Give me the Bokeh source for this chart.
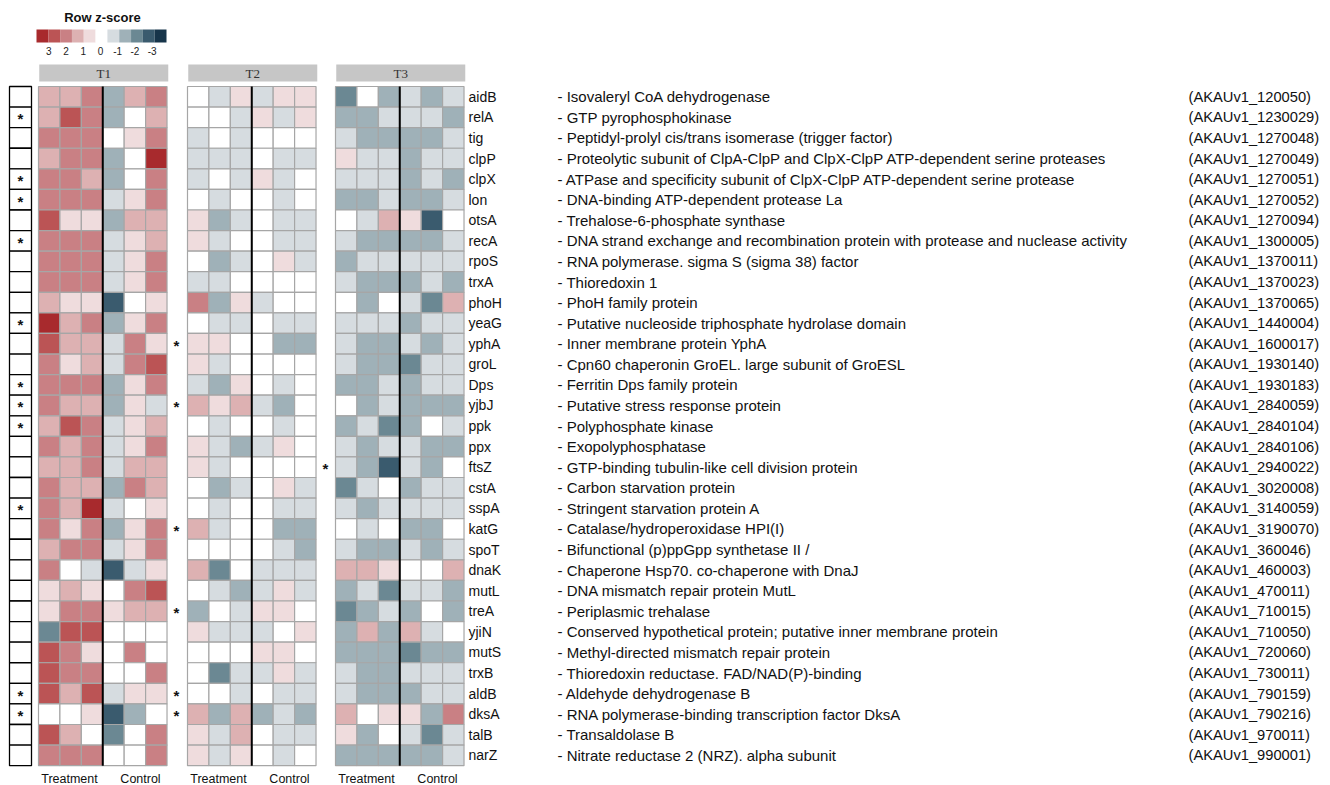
from bokeh.plotting import figure
from bokeh.models import Range1d
from bokeh.core.properties import value
from bokeh.embed import file_html
from bokeh.resources import INLINE

# ---------------- data ----------------
genes = ["aidB", "relA", "tig", "clpP", "clpX", "lon", "otsA", "recA", "rpoS", "trxA", "phoH",
         "yeaG", "yphA", "groL", "Dps", "yjbJ", "ppk", "ppx", "ftsZ", "cstA", "sspA", "katG",
         "spoT", "dnaK", "mutL", "treA", "yjiN", "mutS", "trxB", "aldB", "dksA", "talB", "narZ"]

descriptions = [
    "- Isovaleryl CoA dehydrogenase",
    "- GTP pyrophosphokinase",
    "- Peptidyl-prolyl cis/trans isomerase (trigger factor)",
    "- Proteolytic subunit of ClpA-ClpP and ClpX-ClpP ATP-dependent serine proteases",
    "- ATPase and specificity subunit of ClpX-ClpP ATP-dependent serine protease",
    "- DNA-binding ATP-dependent protease La",
    "- Trehalose-6-phosphate synthase",
    "- DNA strand exchange and recombination protein with protease and nuclease activity",
    "- RNA polymerase. sigma S (sigma 38) factor",
    "- Thioredoxin 1",
    "- PhoH family protein",
    "- Putative nucleoside triphosphate hydrolase domain",
    "- Inner membrane protein YphA",
    "- Cpn60 chaperonin GroEL. large subunit of GroESL",
    "- Ferritin Dps family protein",
    "- Putative stress response protein",
    "- Polyphosphate kinase",
    "- Exopolyphosphatase",
    "- GTP-binding tubulin-like cell division protein",
    "- Carbon starvation protein",
    "- Stringent starvation protein A",
    "- Catalase/hydroperoxidase HPI(I)",
    "- Bifunctional (p)ppGpp synthetase II /",
    "- Chaperone Hsp70. co-chaperone with DnaJ",
    "- DNA mismatch repair protein MutL",
    "- Periplasmic trehalase",
    "- Conserved hypothetical protein; putative inner membrane protein",
    "- Methyl-directed mismatch repair protein",
    "- Thioredoxin reductase. FAD/NAD(P)-binding",
    "- Aldehyde dehydrogenase B",
    "- RNA polymerase-binding transcription factor DksA",
    "- Transaldolase B",
    "- Nitrate reductase 2 (NRZ). alpha subunit",
]

ids = ["(AKAUv1_120050)", "(AKAUv1_1230029)", "(AKAUv1_1270048)", "(AKAUv1_1270049)",
       "(AKAUv1_1270051)", "(AKAUv1_1270052)", "(AKAUv1_1270094)", "(AKAUv1_1300005)",
       "(AKAUv1_1370011)", "(AKAUv1_1370023)", "(AKAUv1_1370065)", "(AKAUv1_1440004)",
       "(AKAUv1_1600017)", "(AKAUv1_1930140)", "(AKAUv1_1930183)", "(AKAUv1_2840059)",
       "(AKAUv1_2840104)", "(AKAUv1_2840106)", "(AKAUv1_2940022)", "(AKAUv1_3020008)",
       "(AKAUv1_3140059)", "(AKAUv1_3190070)", "(AKAUv1_360046)", "(AKAUv1_460003)",
       "(AKAUv1_470011)", "(AKAUv1_710015)", "(AKAUv1_710050)", "(AKAUv1_720060)",
       "(AKAUv1_730011)", "(AKAUv1_790159)", "(AKAUv1_790216)", "(AKAUv1_970011)",
       "(AKAUv1_990001)"]

# z-score level per cell (5 = strongest up, -5 = strongest down); 3 treatment + 3 control
t1 = [[2,2,3,-2,2,3],[2,4,3,-2,0,2],[3,3,3,0,1,3],[2,3,3,-2,0,5],[3,3,2,-2,0,3],
      [3,3,3,-1,1,3],[4,1,1,-2,2,2],[3,3,3,-1,1,2],[3,3,3,-1,1,3],[3,3,3,-1,1,3],
      [2,1,1,-4,0,1],[5,2,3,-2,1,3],[4,2,2,-1,3,1],[3,1,2,-1,3,4],[3,3,3,-2,1,3],
      [3,2,2,-2,1,-1],[2,4,3,-1,1,2],[3,2,3,-1,1,3],[2,2,3,-1,2,2],[3,2,2,-2,3,2],
      [3,2,5,-1,0,1],[3,1,3,-2,1,3],[2,3,3,-1,1,3],[3,0,-1,-4,-1,1],[1,2,1,0,3,4],
      [1,3,3,1,2,2],[-3,4,4,0,0,0],[4,3,1,0,3,0],[4,3,3,0,0,3],[4,2,4,-1,1,1],
      [0,0,1,-4,-2,0],[4,2,0,-3,0,3],[3,3,3,0,0,3]]

t2 = [[0,-1,1,-1,1,1],[0,0,-1,1,-1,1],[-1,0,-1,0,0,0],[-1,-1,-1,0,-1,-1],[-1,0,-1,1,-1,0],
      [0,-1,0,0,-1,0],[1,-2,-1,0,-1,-1],[1,-1,0,0,-1,-1],[0,-2,-1,0,1,-1],[-1,-1,0,0,0,0],
      [3,-2,1,-1,0,0],[0,-1,-1,0,-1,-1],[1,1,0,0,-2,-2],[1,-1,0,0,0,0],[-1,-2,1,0,-1,0],
      [2,1,2,-1,-2,0],[0,-1,0,0,-1,0],[1,-1,-2,-1,1,0],[1,-1,0,0,0,0],[0,-2,-1,0,1,-1],
      [0,-1,0,0,-1,-1],[2,-1,0,0,-2,-2],[0,0,0,0,-1,-2],[2,-3,0,-1,-1,-1],[0,-1,-2,-1,1,-1],
      [-2,0,-1,1,1,0],[1,-1,-1,-1,0,1],[0,0,0,1,1,0],[0,-3,-1,-1,1,-1],[0,0,-1,0,-1,-1],
      [2,-2,2,-2,-1,-2],[1,-1,2,0,-1,-1],[1,-1,1,0,-1,0]]

t3 = [[-3,0,-2,-1,-2,-1],[-2,-2,-1,-1,-1,-2],[-1,-2,-2,-2,-2,-1],[1,-1,-1,-2,-1,-1],
      [-1,-1,-1,-2,-1,-2],[-2,-2,-1,-2,-2,-1],[0,-1,2,1,-4,0],[-1,-2,-2,-2,-2,-1],
      [-2,-1,-1,-1,-1,-1],[-1,-2,-2,-2,-1,-2],[0,-2,0,-1,-3,2],[-1,-1,-1,-2,-1,-1],
      [-1,-2,-2,-1,-2,-1],[-1,-2,-2,-3,-1,-1],[-2,-2,-1,-2,-1,-1],[0,-2,-1,-2,-2,-2],
      [-2,-1,-3,-2,0,-1],[-1,-2,-1,-1,-2,-2],[-1,-2,-4,-1,-2,0],[-3,-1,0,-2,-1,-1],
      [-1,-2,-1,-1,-1,-1],[0,-1,0,-2,-2,0],[-1,-2,-2,-1,-2,-1],[2,2,1,0,0,2],
      [-2,-1,-3,-1,-1,-2],[-3,-2,-1,-2,0,-2],[-2,2,-2,2,-1,0],[-2,-2,-2,-3,-2,-2],
      [-1,-2,-2,-1,-1,-1],[-1,-2,-2,-2,-1,-1],[2,0,1,1,-2,3],[1,-2,0,-1,-3,-1],
      [-2,-2,-2,-2,-2,-1]]

stars_t1 = ["relA", "clpX", "lon", "recA", "yeaG", "Dps", "yjbJ", "ppk", "sspA", "aldB", "dksA"]
stars_t2 = ["yphA", "yjbJ", "katG", "treA", "aldB", "dksA"]
stars_t3 = ["ftsZ"]

panel_names = ["T1", "T2", "T3"]
group_labels = ["Treatment", "Control"]
legend_ticks = [3, 2, 1, 0, -1, -2, -3]

palette = {5: "#A82A2D", 4: "#BB5455", 3: "#C98084", 2: "#DDB1B2", 1: "#EFDCDD", 0: "#FFFFFF",
           -1: "#D6DCE0", -2: "#9FB1B8", -3: "#6B8893", -4: "#3A5B6E", -5: "#17354A"}

# ---------------- layout ----------------
W, H = 1330, 785
p = figure(width=W, height=H, x_range=Range1d(0, W), y_range=Range1d(H, 0),
           output_backend="svg", toolbar_location=None, min_border=0)
p.axis.visible = False
p.grid.visible = False
p.outline_line_color = None
p.background_fill_color = "white"

SANS = value("Liberation Sans")
SERIF = value("Liberation Serif")

n = len(genes)
row_top = 86.0
rh = 20.58
cw = 21.42
panel_x0 = [38.0, 187.0, 335.0]
row_y = [row_top + (i + 0.5) * rh for i in range(n)]

# heatmap cells
xs, ys, cs = [], [], []
for pi, mat in enumerate([t1, t2, t3]):
    for r in range(n):
        for c in range(6):
            xs.append(panel_x0[pi] + (c + 0.5) * cw)
            ys.append(row_y[r])
            cs.append(palette[mat[r][c]])
p.rect(x=xs, y=ys, width=cw, height=rh, fill_color=cs, line_color="#A6A6A6", line_width=1.2)

# separators between treatment and control
for pi in range(3):
    xm = panel_x0[pi] + 3 * cw
    p.segment(x0=[xm], y0=[row_top], x1=[xm], y1=[row_top + n * rh], line_color="black", line_width=2)

# header bars
hx = [panel_x0[pi] + 3 * cw + 1 for pi in range(3)]
p.rect(x=hx, y=[72.5] * 3, width=129, height=17, fill_color="#C6C6C6", line_color=None)
p.text(x=hx, y=[73] * 3, text=panel_names, text_font=SERIF, text_font_size="13px",
       text_align="center", text_baseline="middle", text_color="#333333")

# left significance boxes for T1
p.rect(x=[20] * n, y=row_y, width=22, height=rh, fill_color="white", line_color="black", line_width=1.3)

def star_rows(lst):
    return [row_y[genes.index(g)] + 1.5 for g in lst]

for xx, lst in [(20, stars_t1), (176, stars_t2), (325, stars_t3)]:
    p.text(x=[xx] * len(lst), y=star_rows(lst), text=["*"] * len(lst), text_font=SANS,
           text_font_size="15px", text_font_style="bold", text_align="center",
           text_baseline="middle", text_color="#111111")

# gene texts
p.text(x=[468] * n, y=row_y, text=genes, text_font=SANS, text_font_size="14px",
       text_align="left", text_baseline="middle", text_color="#111111")
p.text(x=[557] * n, y=row_y, text=descriptions, text_font=SANS, text_font_size="15px",
       text_align="left", text_baseline="middle", text_color="#111111")
p.text(x=[1188] * n, y=row_y, text=ids, text_font=SANS, text_font_size="14.7px",
       text_align="left", text_baseline="middle", text_color="#111111")

# bottom group labels
bx, bt = [], []
for pi in range(3):
    bx += [panel_x0[pi] + 31, panel_x0[pi] + 102]
    bt += group_labels
p.text(x=bx, y=[778] * 6, text=bt, text_font=SANS, text_font_size="12.5px",
       text_align="center", text_baseline="middle", text_color="#111111")

# colour key
levels = sorted(palette.keys(), reverse=True)
lw = 130 / len(levels)
p.rect(x=[36 + (i + 0.5) * lw for i in range(len(levels))], y=[35.5] * len(levels), width=lw, height=13,
       fill_color=[palette[l] for l in levels], line_color=None)
p.text(x=[100 - 17.2 * t for t in legend_ticks], y=[50] * len(legend_ticks),
       text=[str(t) for t in legend_ticks], text_font=SANS, text_font_size="10px",
       text_align="center", text_baseline="middle", text_color="#222222")
p.text(x=[102], y=[17], text=["Row z-score"], text_font=SANS, text_font_size="13px",
       text_font_style="bold", text_align="center", text_baseline="middle", text_color="#111111")

open("out.html", "w").write(file_html(p, INLINE))
